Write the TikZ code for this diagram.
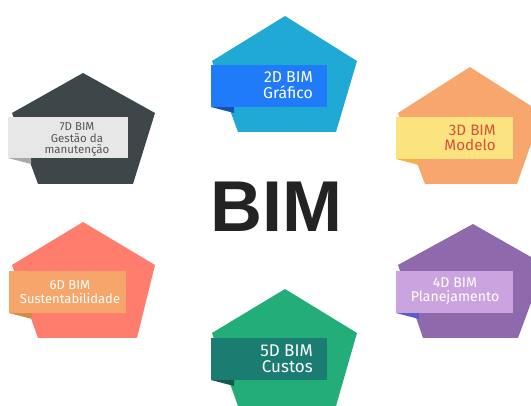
\documentclass[tikz,border=0pt]{standalone}
\usepackage{fontspec}
\setmainfont{Fira Sans}
\newfontfamily\bigfont{Liberation Sans}
\definecolor{pBlue}{HTML}{1FA9D4}
\definecolor{rBlue}{HTML}{1F7BFA}
\definecolor{fBlue}{HTML}{1550B5}
\definecolor{pOrange}{HTML}{F7A66D}
\definecolor{rYellow}{HTML}{FBE37F}
\definecolor{fYellow}{HTML}{F6B04A}
\definecolor{tRed}{HTML}{D5503D}
\definecolor{pDark}{HTML}{3D4648}
\definecolor{rGray}{HTML}{E7E7E7}
\definecolor{fGray}{HTML}{A9A9A9}
\definecolor{tGray}{HTML}{555555}
\definecolor{pSalmon}{HTML}{FF7D6C}
\definecolor{rOrange}{HTML}{F6A56B}
\definecolor{fOrange}{HTML}{D68A45}
\definecolor{pPurple}{HTML}{8E69AC}
\definecolor{rLav}{HTML}{CBA4DF}
\definecolor{fPurple}{HTML}{5A5CC8}
\definecolor{pGreen}{HTML}{23AD79}
\definecolor{rTeal}{HTML}{1B7D71}
\definecolor{fTeal}{HTML}{125A50}
\definecolor{bimText}{HTML}{232323}
\tikzset{
  lbl/.style={inner sep=0pt},
}
\begin{document}
\begin{tikzpicture}[x=1pt,y=-1pt]
\useasboundingbox (0,0) rectangle (531,406);
\begin{scope}
\clip (0,0) rectangle (531,406);
% 2D
\fill[pBlue] (285,16) -- (357,61) -- (336,132) -- (238,132) -- (212,61) -- cycle;
\fill[fBlue] (211,107) -- (234,107) -- (234,113) -- cycle;
\fill[rBlue] (211,65) rectangle (327,107);
% 3D
\fill[pOrange] (470,67) -- (542,113) -- (517,184) -- (425,184) -- (398,113) -- cycle;
\fill[fYellow] (396,159) -- (419,159) -- (419,165) -- cycle;
\fill[rYellow] (396,117) rectangle (513,159);
% 7D
\fill[pDark] (83,73) -- (155,113) -- (133,184) -- (38,184) -- (12,113) -- cycle;
\fill[fGray] (8,158) -- (31,158) -- (31,164) -- cycle;
\fill[rGray] (8,117) rectangle (128,158);
% 6D
\fill[pSalmon] (83,222) -- (155,265) -- (137,338) -- (38,338) -- (12,265) -- cycle;
\fill[fOrange] (9,313) -- (32,313) -- (32,319) -- cycle;
\fill[rOrange] (9,271) rectangle (126,313);
% 4D
\fill[pPurple] (473,224) -- (545,265) -- (518,338) -- (423,338) -- (398,265) -- cycle;
\fill[fPurple] (396,313) -- (419,313) -- (419,319) -- cycle;
\fill[rLav] (396,271) rectangle (513,313);
% 5D
\fill[pGreen] (285,289) -- (357,333) -- (336,406) -- (238,406) -- (212,333) -- cycle;
\fill[fTeal] (211,380) -- (234,380) -- (234,386) -- cycle;
\fill[rTeal] (211,338) rectangle (327,380);
\end{scope}
% labels
\node[lbl, font=\fontsize{15.8}{15.8}\selectfont, text=white, align=right, anchor=east] (t2d) at (313,85.5) {2D BIM\\Gráfico};
\node[lbl, font=\fontsize{15.2}{15}\selectfont, text=tRed, align=right, anchor=east] (t3d) at (496,138) {3D BIM\\Modelo};
\node[lbl, font=\fontsize{11.5}{11.8}\selectfont, text=tGray, align=center] (t7d) at (77,139.5) {7D BIM\\Gestão da\\manutenção};
\node[lbl, font=\fontsize{13}{13.5}\selectfont, text=white, align=center] (t6d) at (70,292) {6D BIM\\Sustentabilidade};
\node[lbl, font=\fontsize{14.1}{14.2}\selectfont, text=white, align=center] (t4d) at (455,291) {4D BIM\\Planejamento};
\node[lbl, font=\fontsize{17}{16.5}\selectfont, text=white, align=right, anchor=east] (t5d) at (313,358.5) {5D BIM\\Custos};
\node[inner sep=0pt, text=bimText, font=\bigfont\bfseries\fontsize{72}{72}\selectfont, anchor=base] (bim) at (276.5,232) {BIM};
\end{tikzpicture}
\end{document}
